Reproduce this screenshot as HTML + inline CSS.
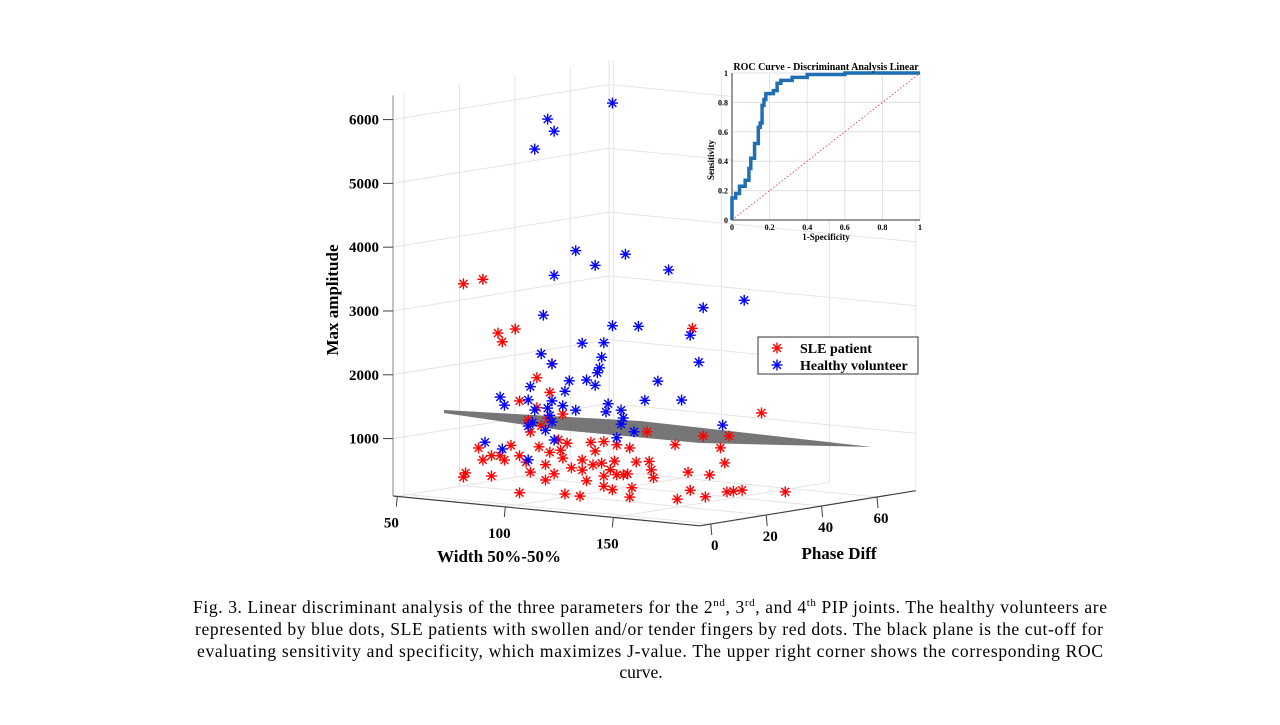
<!DOCTYPE html>
<html><head><meta charset="utf-8"><style>
body{margin:0;background:#fff;}
svg text{font-family:"Liberation Serif",serif;}
</style></head><body>
<svg id="fig" width="1280" height="720" viewBox="0 0 1280 720" xmlns="http://www.w3.org/2000/svg">
<g id="grid"></g>
<g id="axes"></g>
<polygon points="444,410 640,421 872,447 700,443 560,430 444,413" fill="#6a6a6a" opacity="0.92"/>
<g id="pts"></g>
<text x="0" y="0" transform="translate(338,300) rotate(-90)" text-anchor="middle" font-size="17" font-weight="bold">Max amplitude</text>
<text x="499" y="562" text-anchor="middle" font-size="17" font-weight="bold">Width 50%-50%</text>
<text x="839" y="559" text-anchor="middle" font-size="17" font-weight="bold">Phase Diff</text>
<g>
<rect x="758" y="337" width="160" height="37" fill="#fff" stroke="#333" stroke-width="1"/>
<g id="lg"></g>
<text x="800" y="353" font-size="14" font-weight="bold">SLE patient</text>
<text x="800" y="370" font-size="14" font-weight="bold">Healthy volunteer</text>
</g>
<g id="roc"></g>
<g font-size="17.5">
<text x="193" y="613" textLength="914" lengthAdjust="spacing">Fig. 3. Linear discriminant analysis of the three parameters for the 2<tspan font-size="11" dy="-7">nd</tspan><tspan dy="7">, 3</tspan><tspan font-size="11" dy="-7">rd</tspan><tspan dy="7">, and 4</tspan><tspan font-size="11" dy="-7">th</tspan><tspan dy="7"> PIP joints. The healthy volunteers are</tspan></text>
<text x="195" y="635" textLength="908" lengthAdjust="spacing">represented by blue dots, SLE patients with swollen and/or tender fingers by red dots. The black plane is the cut-off for</text>
<text x="197" y="657" textLength="906" lengthAdjust="spacing">evaluating sensitivity and specificity, which maximizes J-value. The upper right corner shows the corresponding ROC</text>
<text x="641" y="678" text-anchor="middle">curve.</text>
</g>
</svg>
<script>
const NS='http://www.w3.org/2000/svg';
const zTicks=[1000,2000,3000,4000,5000,6000];
const wTicks=[50,100,150];
const pTicks=[0,20,40,60];
const blueW=[106,76,79,70,89,112,98,79,132,167,148,74,106,118,142,92,73,78,102,101,100,94,98,99,127,146,86,68,78,84,54,56,67,70,77,78,83,76,67,104,103,110,111,110,121,138,108,116,79,75,157,47,55,67,69,89];
const blueZ=[6210,5860,5680,5370,3840,3860,3640,3420,3680,3320,3140,2780,2720,2750,2690,2400,2170,2030,2440,2210,2040,1830,1760,1960,1920,2280,1790,1640,1450,1620,1430,1310,1430,1280,1220,1120,1390,1330,1020,1490,1360,1410,1290,1190,1600,1660,970,1090,840,980,1330,700,620,490,1080,1340];
const redW=[37,46,53,61,55,78,143,71,77,71,76,63,83,67,73,63,175,148,160,122,135,81,82,59,56,50,68,66,75,79,75,96,92,102,98,107,108,114,83,87,92,94,102,108,111,102,106,115,113,105,117,123,124,101,97,125,141,151,158,156,142,136,149,159,162,166,186,114,91,84,63,50,37,38,46,44,54,72,77,85,68];
const redZ=[3150,3250,2430,2520,2300,2030,2800,1790,1580,1320,1170,1400,1260,1110,1040,540,1580,1130,1170,1110,950,850,690,690,450,500,300,450,440,310,200,860,570,890,730,600,860,830,570,430,410,250,350,390,400,190,150,210,420,460,620,650,520,550,510,400,540,530,740,970,260,100,180,290,310,340,380,60,0,10,-40,180,120,190,420,600,510,710,640,810,930];
const PH=30;
const rocX=[0,0,0.02,0.02,0.04,0.04,0.07,0.07,0.09,0.09,0.10,0.10,0.12,0.12,0.14,0.14,0.15,0.15,0.16,0.16,0.17,0.17,0.18,0.18,0.22,0.22,0.24,0.24,0.26,0.26,0.32,0.32,0.40,0.40,0.60,0.60,1.0];
const rocY=[0,0.15,0.15,0.18,0.18,0.23,0.23,0.27,0.27,0.35,0.35,0.42,0.42,0.52,0.52,0.63,0.63,0.66,0.66,0.78,0.78,0.82,0.82,0.86,0.86,0.88,0.88,0.93,0.93,0.95,0.95,0.97,0.97,0.99,0.99,1,1];
const rocTicks=[0,0.2,0.4,0.6,0.8,1];

const W0=48,W1=190,P0=-4,P1=74,Z0=100,Z1=6380;
function px(w,p){return 393+(w-W0)*2.16+(p-P0)*2.77;}
function py(w,p,z){return 496+(w-W0)*0.21-(p-P0)*0.45-(z-Z0)*0.0638;}
function mk(tag,attrs,parent){const e=document.createElementNS(NS,tag);for(const k in attrs)e.setAttribute(k,attrs[k]);parent.appendChild(e);return e;}
function line3(a,b,parent,col,sw){return mk('line',{x1:px(a[0],a[1]),y1:py(a[0],a[1],a[2]),x2:px(b[0],b[1]),y2:py(b[0],b[1],b[2]),stroke:col,'stroke-width':sw},parent);}
const grid=document.getElementById('grid');
const GC='#e4e4e4';
zTicks.forEach(z=>{
  const l1=line3([W0,P0,z],[W0,P1,z],grid,GC,1);
  
  
  const l2=line3([W0,P1,z],[W1,P1,z],grid,GC,1);
  
  
});
pTicks.forEach(p=>{
  const a=line3([W0,p,Z0],[W0,p,Z1],grid,GC,1);
  
  
  const b=line3([W0,p,Z0],[W1,p,Z0],grid,GC,1);
  
  
});
wTicks.forEach(w=>{
  const a=line3([w,P1,Z0],[w,P1,Z1],grid,GC,1);
  
  
  const b=line3([w,P0,Z0],[w,P1,Z0],grid,GC,1);
  
  
});
[[W0,P1],[W1,P1]].forEach(c=>{const e=line3([c[0],c[1],Z0],[c[0],c[1],Z1],grid,GC,1);
  
  });
const ax=document.getElementById('axes');
const AC='#404040';
line3([W0,P0,Z0],[W0,P0,Z1],ax,'#999',1.2);
line3([W0,P0,Z0],[W1,P0,Z0],ax,AC,1.2);
line3([W1,P0,Z0],[W1,P1,Z0],ax,AC,1.2);
zTicks.forEach(z=>{
  const y=py(W0,P0,z),x=px(W0,P0);
  mk('line',{x1:x-10,y1:y,x2:x,y2:y,stroke:AC,'stroke-width':1},ax);
  const t=mk('text',{x:x-14,y:y+5,'text-anchor':'end','font-size':15,'font-weight':'bold'},ax);
  t.textContent=z;
  
  
});
wTicks.forEach(w=>{
  const x=px(w,P0),y=py(w,P0,Z0);
  mk('line',{x1:x,y1:y,x2:x-1,y2:y+10,stroke:AC,'stroke-width':1},ax);
  const t=mk('text',{x:x-6,y:y+31,'text-anchor':'middle','font-size':15,'font-weight':'bold'},ax);
  t.textContent=w;
  
  
});
pTicks.forEach(p=>{
  const x=px(W1,p),y=py(W1,p,Z0);
  mk('line',{x1:x,y1:y,x2:x+1,y2:y+11,stroke:AC,'stroke-width':1},ax);
  const t=mk('text',{x:x+4,y:y+26,'text-anchor':'middle','font-size':15,'font-weight':'bold'},ax);
  t.textContent=p;
  
  
});
function star(x,y,col,parent){
  const g=mk('g',{stroke:col,'stroke-width':1.4},parent);
  const r=5.5,d=3.9;
  mk('line',{x1:x-r,y1:y,x2:x+r,y2:y},g);
  mk('line',{x1:x,y1:y-r,x2:x,y2:y+r},g);
  mk('line',{x1:x-d,y1:y-d,x2:x+d,y2:y+d},g);
  mk('line',{x1:x-d,y1:y+d,x2:x+d,y2:y-d},g);
  return g;
}
const pts=document.getElementById('pts');
redW.forEach((w,i)=>{const g=star(px(w,PH),py(w,PH,redZ[i]),'#ff0000',pts);
  
  });
blueW.forEach((w,i)=>{const g=star(px(w,PH),py(w,PH,blueZ[i]),'#0000ff',pts);
  
  });
const lg=document.getElementById('lg');
star(777,348,'#ff0000',lg);star(777,365,'#0000ff',lg);

// ROC inset
const roc=document.getElementById('roc');
const RX0=732,RX1=920,RY0=220,RY1=73;
const rx=v=>RX0+v*(RX1-RX0), ry=v=>RY0-v*(RY0-RY1);
mk('rect',{x:RX0,y:RY1,width:RX1-RX0,height:RY0-RY1,fill:'#fff'},roc);
rocTicks.forEach(t=>{
  mk('line',{x1:rx(t),y1:RY1,x2:rx(t),y2:RY0,stroke:'#e0e0e0','stroke-width':1},roc);
  mk('line',{x1:RX0,y1:ry(t),x2:RX1,y2:ry(t),stroke:'#e0e0e0','stroke-width':1},roc);
  const a=mk('text',{x:rx(t),y:RY0+10,'text-anchor':'middle','font-size':8,'font-weight':'bold'},roc);
  a.textContent=t;
  
  
  const b=mk('text',{x:RX0-4,y:ry(t)+3,'text-anchor':'end','font-size':8,'font-weight':'bold'},roc);
  b.textContent=t;
  
  
});
mk('path',{d:`M${RX0},${RY1}V${RY0}H${RX1}`,fill:'none',stroke:'#333','stroke-width':1},roc);
mk('line',{x1:rx(0),y1:ry(0),x2:rx(1),y2:ry(1),stroke:'#e03030','stroke-width':0.8,'stroke-dasharray':'1.5,2'},roc);
const rl=mk('polyline',{points:rocX.map((v,i)=>rx(v)+','+ry(rocY[i])).join(' '),fill:'none',stroke:'#1f6fb5','stroke-width':3.5},roc);


const tt=mk('text',{x:826,y:70,'text-anchor':'middle','font-size':10,'font-weight':'bold'},roc);
tt.textContent='ROC Curve - Discriminant Analysis Linear';


const xl=mk('text',{x:826,y:240,'text-anchor':'middle','font-size':9,'font-weight':'bold'},roc);
xl.textContent='1-Specificity';


const yl=mk('text',{x:0,y:0,transform:'translate(714,160) rotate(-90)','text-anchor':'middle','font-size':9,'font-weight':'bold'},roc);
yl.textContent='Sensitivity';


</script>
</body></html>
